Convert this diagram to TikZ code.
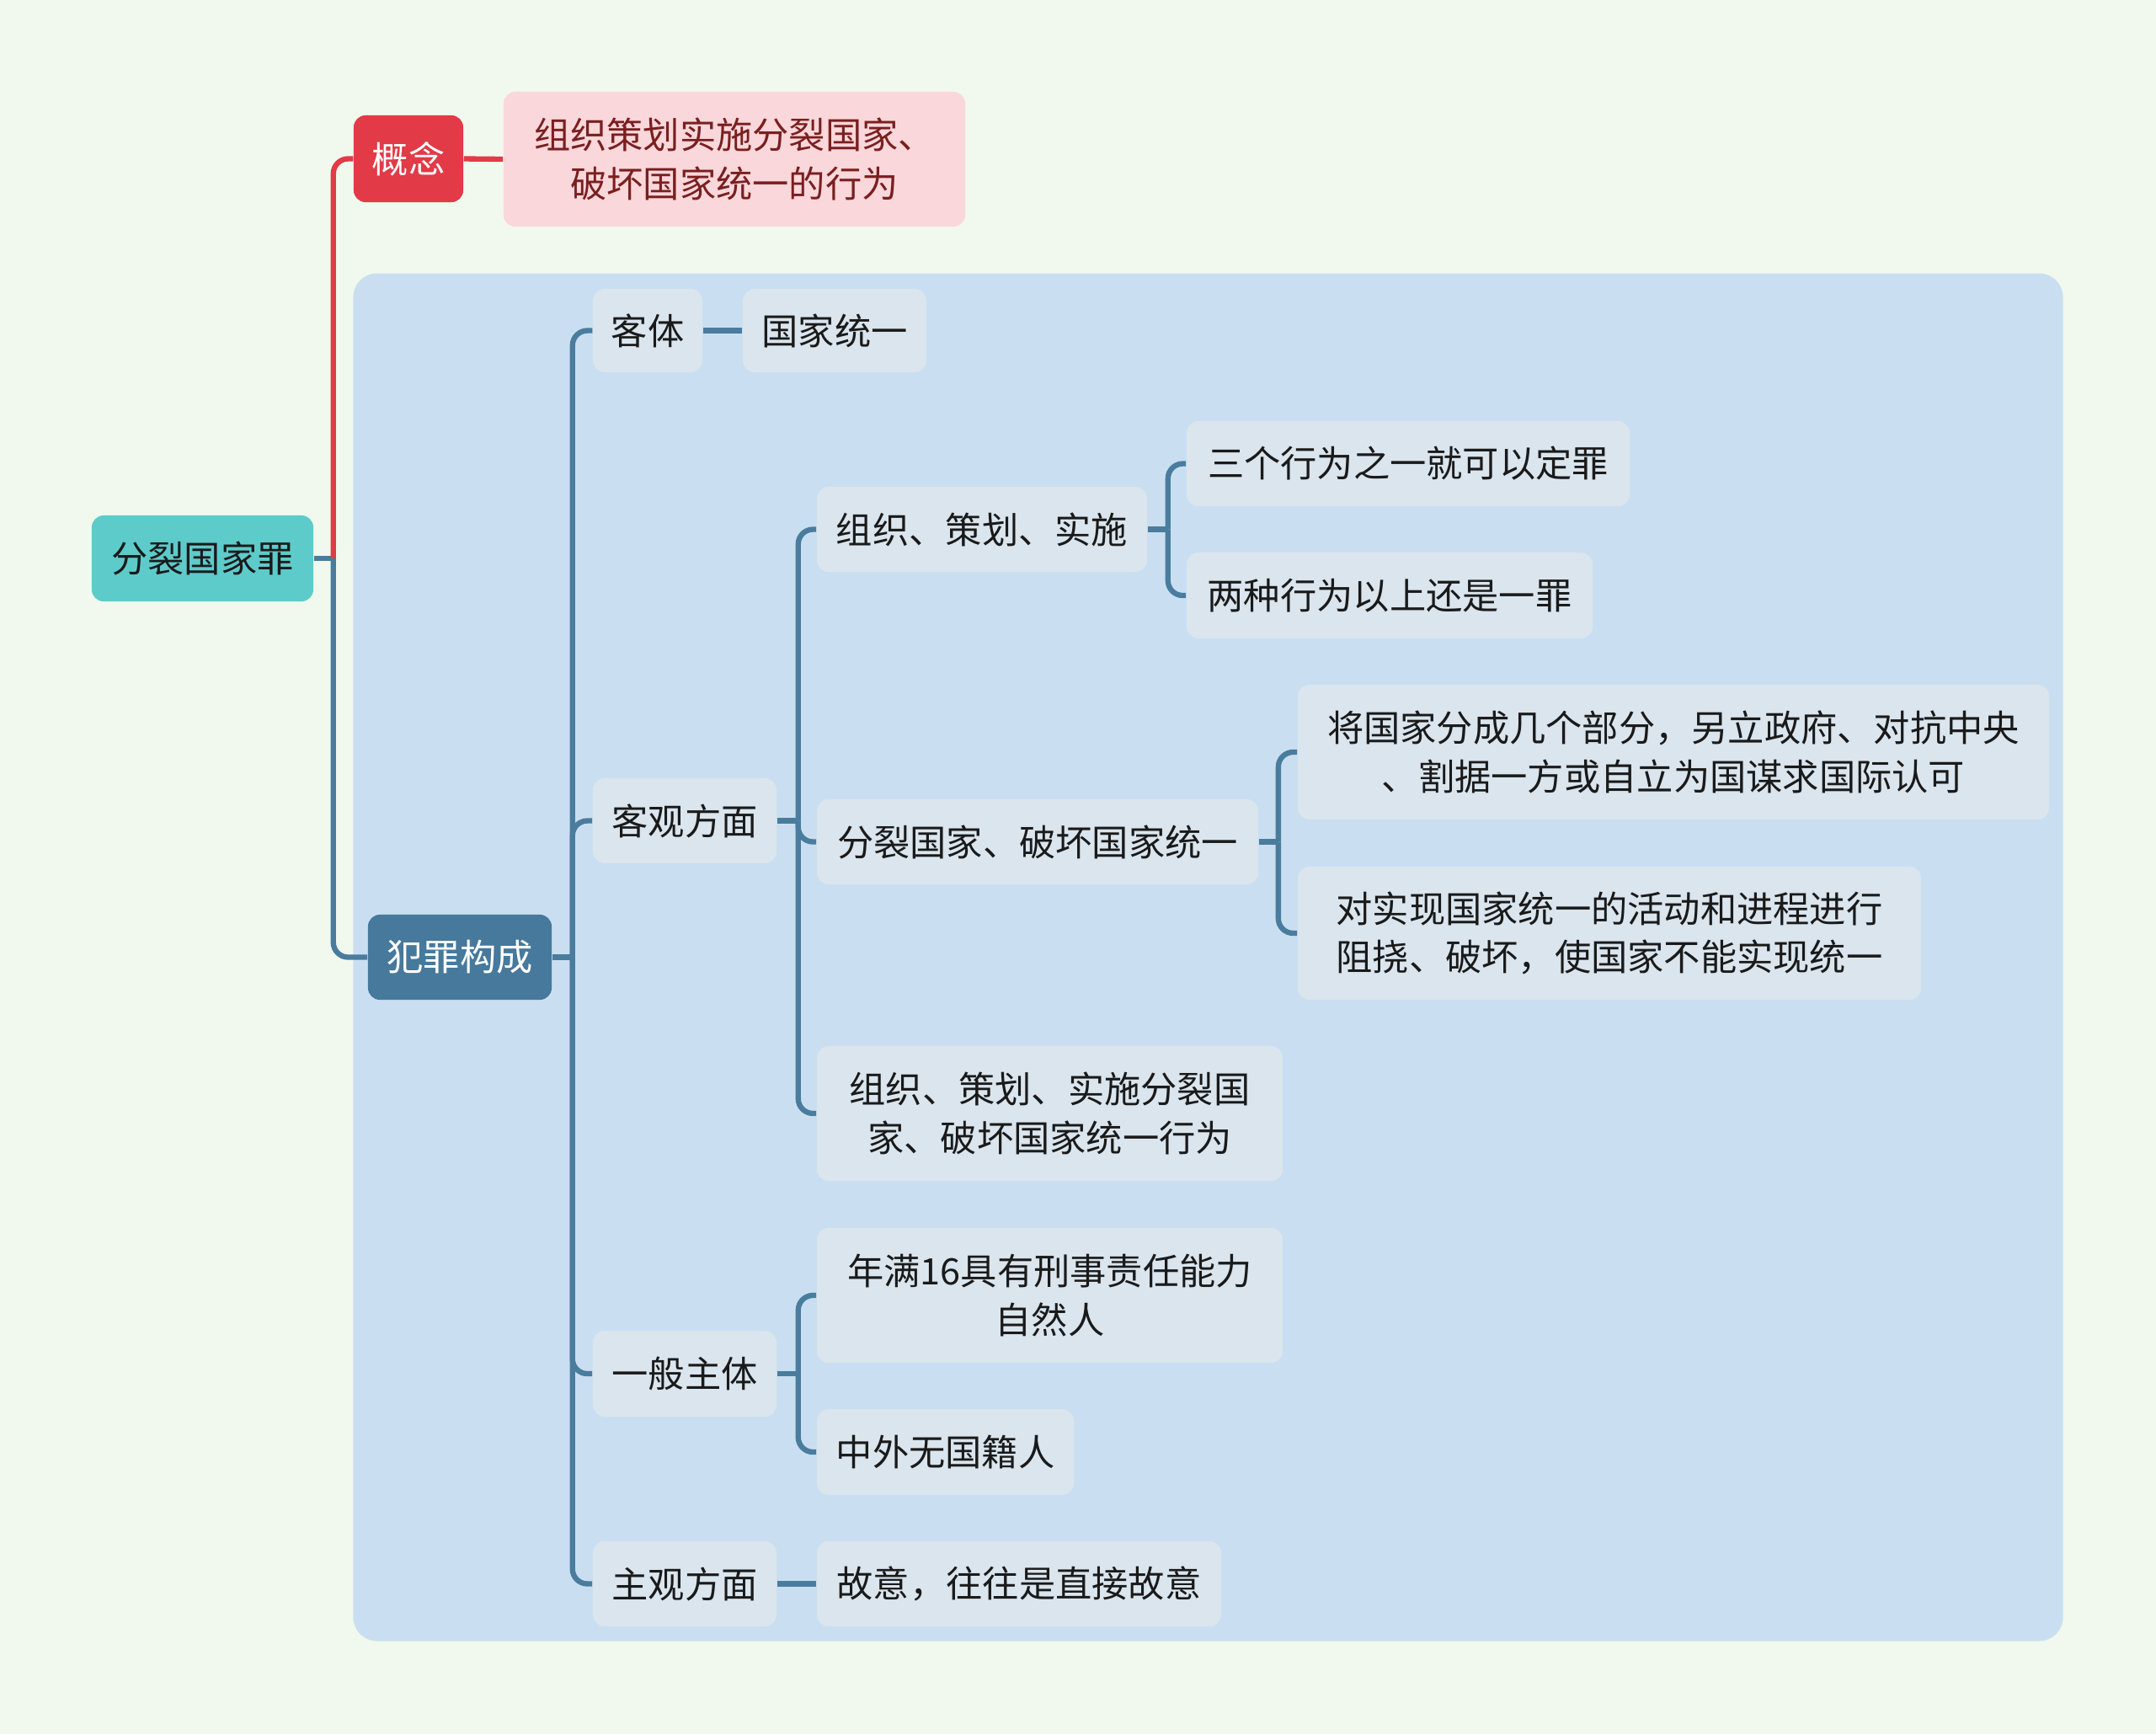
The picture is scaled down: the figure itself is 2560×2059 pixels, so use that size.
\documentclass[tikz,border=0pt]{standalone}
\usepackage{fontspec}
\newfontfamily\cjk{Noto Sans CJK SC}
\usepackage{tikz}
\usetikzlibrary{positioning,calc}
\definecolor{bgc}{HTML}{F1F9EE}
\definecolor{zonec}{HTML}{C9DFF1}
\definecolor{tealc}{HTML}{5ECBCB}
\definecolor{redc}{HTML}{E23A46}
\definecolor{pinkc}{HTML}{FAD7DB}
\definecolor{defc}{HTML}{7A1F1F}
\definecolor{steel}{HTML}{46799B}
\definecolor{leafc}{HTML}{DAE5EE}
\definecolor{linec}{HTML}{4A7C9D}
\definecolor{txt}{HTML}{1A1A1A}
\tikzset{
  base/.style={rectangle,rounded corners=4pt,inner sep=0pt,align=center,text=txt,font=\cjk\fontsize{12.3}{16.3}\selectfont},
  rt/.style={base,fill=tealc},
  gn/.style={base,fill=redc,text=white},
  df/.style={base,fill=pinkc,text=defc},
  mn/.style={base,fill=steel,text=white},
  lf/.style={base,fill=leafc},
  zone/.style={rectangle,rounded corners=8pt,fill=zonec},
  lnk/.style={draw=linec,line width=1.8pt,rounded corners=5pt},
  rlnk/.style={lnk,draw=redc},
}
\begin{document}
\begin{tikzpicture}[x=0.01cm,y=-0.01cm]
  \fill[bgc] (0,0) rectangle (2560,2059);
  \useasboundingbox (0,0) rectangle (2560,2059);
  \node[zone,minimum width=20.29cm,minimum height=16.23cm] (area) at (1434.5,1136.5) {};
  \node[rt,minimum width=2.63cm,minimum height=1.02cm] (root) at (240.5,663) {分裂国家罪};
  \node[gn,minimum width=1.30cm,minimum height=1.03cm] (gnode) at (485,188.5) {概念};
  \node[df,minimum width=5.48cm,minimum height=1.60cm] (defn) at (872,189) {组织策划实施分裂国家、\\破坏国家统一的行为};
  \node[mn,minimum width=2.18cm,minimum height=1.01cm] (fz) at (546,1136.5) {犯罪构成};
  \node[lf,minimum width=1.30cm,minimum height=0.99cm] (kt) at (769,392.5) {客体};
  \node[lf,minimum width=2.18cm,minimum height=0.99cm] (gjty) at (991,392.5) {国家统一};
  \node[lf,minimum width=2.18cm,minimum height=1.01cm] (kg) at (813,974.5) {客观方面};
  \node[lf,minimum width=2.18cm,minimum height=1.02cm] (ybzt) at (813,1631) {一般主体};
  \node[lf,minimum width=2.18cm,minimum height=1.01cm] (zg) at (813,1880.5) {主观方面};
  \node[lf,minimum width=3.92cm,minimum height=1.01cm] (zc) at (1166,628.5) {组织、策划、实施};
  \node[lf,minimum width=5.24cm,minimum height=1.01cm] (fl) at (1232,999.5) {分裂国家、破坏国家统一};
  \node[lf,minimum width=5.53cm,minimum height=1.60cm] (zcfl) at (1246.5,1322) {组织、策划、实施分裂国\\家、破坏国家统一行为};
  \node[lf,minimum width=5.26cm,minimum height=1.01cm] (sg) at (1672,550.5) {三个行为之一就可以定罪};
  \node[lf,minimum width=4.82cm,minimum height=1.02cm] (lz) at (1650,707) {两种行为以上还是一罪};
  \node[lf,minimum width=8.92cm,minimum height=1.60cm] (jg) at (1987,893) {将国家分成几个部分，另立政府、对抗中央\\、割据一方或自立为国谋求国际认可};
  \node[lf,minimum width=7.40cm,minimum height=1.58cm] (dsx) at (1911,1108) {对实现国家统一的活动和进程进行\\阻挠、破坏，使国家不能实现统一};
  \node[lf,minimum width=5.53cm,minimum height=1.60cm] (nm) at (1246.5,1538) {年满16具有刑事责任能力\\自然人};
  \node[lf,minimum width=3.05cm,minimum height=1.02cm] (zw) at (1122.5,1724) {中外无国籍人};
  \node[lf,minimum width=4.80cm,minimum height=1.01cm] (gy) at (1210,1880.5) {故意，往往是直接故意};
  \draw[lnk] (root.east) -- ++(23,0) coordinate (t0);
  \draw[rlnk] (t0) |- (gnode.west); \draw[lnk] (t0) |- (fz.west);
  \draw[rlnk] (gnode.east) -- (defn.west);
  \draw[lnk] (fz.east) -- ++(24,0) coordinate (t1);
  \draw[lnk] (t1) |- (kt.west); \draw[lnk] (t1) |- (kg.west); \draw[lnk] (t1) |- (ybzt.west); \draw[lnk] (t1) |- (zg.west);
  \draw[lnk] (kt.east) -- (gjty.west);
  \draw[lnk] (kg.east) -- ++(25,0) coordinate (t2);
  \draw[lnk] (t2) |- (zc.west); \draw[lnk] (t2) |- (fl.west); \draw[lnk] (t2) |- (zcfl.west);
  \draw[lnk] (zc.east) -- ++(24,0) coordinate (t3);
  \draw[lnk] (t3) |- (sg.west); \draw[lnk] (t3) |- (lz.west);
  \draw[lnk] (fl.east) -- ++(23,0) coordinate (t4);
  \draw[lnk] (t4) |- (jg.west); \draw[lnk] (t4) |- (dsx.west);
  \draw[lnk] (ybzt.east) -- ++(25,0) coordinate (t5);
  \draw[lnk] (t5) |- (nm.west); \draw[lnk] (t5) |- (zw.west);
  \draw[lnk] (zg.east) -- (gy.west);
\end{tikzpicture}
\end{document}
